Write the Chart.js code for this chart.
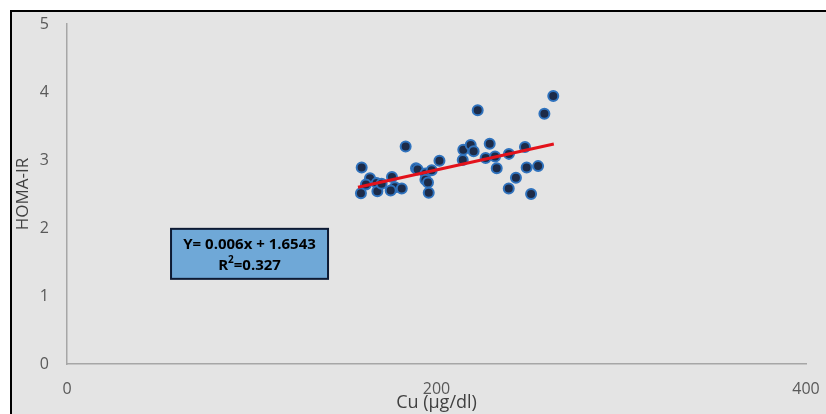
<!DOCTYPE html>
<html>
<head>
<meta charset="utf-8">
<script src="https://cdn.jsdelivr.net/npm/chart.js@4.4.1/dist/chart.umd.min.js"></script>
<style>
  html, body { margin: 0; padding: 0; background: #fff; }
  #wrap { width: 826px; height: 414px; position: relative; }
</style>
</head>
<body>
<div id="wrap"><canvas id="chart" width="826" height="414"></canvas></div>
<script>
// Cu (µg/dl) vs HOMA-IR
const cuValues = [159.5, 159.1, 164.0, 161.8, 167.6, 168.0, 170.3, 175.9, 177.5, 175.2,
    181.2, 183.3, 188.9, 189.8, 194.0, 194.0, 195.4, 195.8, 197.4, 201.6,
    214.2, 214.5, 218.5, 220.1, 222.3, 226.6, 228.8, 231.7, 232.6, 239.2,
    239.1, 243.0, 247.9, 248.8, 255.0, 251.2, 258.4, 263.2]
const homaValues = [2.89, 2.51, 2.73, 2.64, 2.66, 2.54, 2.65, 2.75, 2.60, 2.55,
    2.58, 3.20, 2.88, 2.86, 2.80, 2.71, 2.67, 2.52, 2.85, 2.99,
    3.00, 3.15, 3.22, 3.13, 3.73, 3.03, 3.24, 3.05, 2.88, 3.09,
    2.58, 2.74, 3.19, 2.89, 2.91, 2.50, 3.68, 3.94]

// linear trend line ends
const trendX = [157.5, 263.5]
const trendY = [2.600, 3.235]

const xTicks = [0, 200, 400]
const yTicks = [0, 1, 2, 3, 4, 5]

const eqLines = ['Y= 0.006x + 1.6543', 'R', '=0.327']
const eqAnchor = { x: 98.8, y: 1.62 }

const tickFamily = "'Open Sans', sans-serif"

const backgroundPlugin = {
    id: 'bg',
    beforeDraw: (chart) => {
        const ctx = chart.ctx
        ctx.save()
        ctx.fillStyle = '#ffffff'
        ctx.fillRect(0, 0, chart.width, chart.height)
        ctx.fillStyle = '#e4e4e4'
        ctx.fillRect(12, 12, chart.width - 12, chart.height - 12)
        ctx.fillStyle = '#000000'
        ctx.fillRect(10, 10, 2, chart.height - 10)
        ctx.fillRect(10, 10, chart.width - 10, 2)
        ctx.restore()
    }
}

const equationPlugin = {
    id: 'equation',
    afterDatasetsDraw: (chart) => {
        const ctx = chart.ctx
        const cx = chart.scales.x.getPixelForValue(eqAnchor.x)
        const cy = chart.scales.y.getPixelForValue(eqAnchor.y)
        const w = 157, h = 50
        ctx.save()
        ctx.fillStyle = '#6fa8d7'
        ctx.fillRect(cx - w / 2, cy - h / 2, w, h)
        ctx.strokeStyle = '#0d1a33'
        ctx.lineWidth = 2
        ctx.strokeRect(cx - w / 2, cy - h / 2, w, h)

        const big = "bold 15px " + tickFamily
        const small = "bold 10px " + tickFamily
        ctx.fillStyle = '#000'
        ctx.textBaseline = 'middle'
        ctx.textAlign = 'center'
        ctx.font = big
        ctx.fillText(eqLines[0], cx, cy - 9)

        // R² line
        const rW = ctx.measureText(eqLines[1]).width
        const restW = ctx.measureText(eqLines[2]).width
        ctx.font = small
        const supW = ctx.measureText('2').width
        let left = cx - (rW + supW + restW) / 2
        ctx.textAlign = 'left'
        ctx.font = big
        ctx.fillText(eqLines[1], left, cy + 12)
        ctx.font = small
        ctx.fillText('2', left + rW, cy + 6)
        ctx.font = big
        ctx.fillText(eqLines[2], left + rW + supW, cy + 12)
        ctx.restore()
    }
}

const ctx = document.getElementById('chart')

new Chart(ctx, {
    type: 'scatter',
    data: {
        datasets: [{
            type: 'line',
            data: trendX.map((x, i) => ({ x: x, y: trendY[i] })),
            borderColor: '#e3121b',
            borderWidth: 3,
            pointRadius: 0,
            fill: false
        }, {
            data: cuValues.map((x, i) => ({ x: x, y: homaValues[i] })),
            backgroundColor: '#1d2b48',
            borderColor: '#2f72bd',
            borderWidth: 2,
            pointRadius: 5
        }]
    },
    options: {
        responsive: false,
        animation: false,
        layout: { padding: { top: 24, right: 20, left: 0, bottom: 0 } },
        plugins: {
            legend: { display: false },
            tooltip: { enabled: false }
        },
        scales: {
            x: {
                type: 'linear',
                min: 0,
                max: 400,
                afterBuildTicks: (scale) => { scale.ticks = xTicks.map(v => ({ value: v })) },
                afterFit: (scale) => {
                    scale.height = 50
                    scale.paddingLeft = 0
                    scale.paddingRight = 0
                },
                grid: { display: false, drawTicks: false },
                border: { display: true, color: '#a6a6a6', width: 1.5 },
                ticks: { padding: 16, color: '#595959', font: { family: tickFamily, size: 16 } },
                title: {
                    display: true,
                    text: 'Cu (µg/dl)',
                    color: '#404040',
                    padding: { top: 0, bottom: 0 },
                    font: { family: tickFamily, size: 18 }
                }
            },
            y: {
                min: 0,
                max: 5,
                afterBuildTicks: (scale) => { scale.ticks = yTicks.map(v => ({ value: v })) },
                afterFit: (scale) => {
                    scale.width = 67
                    scale.paddingTop = 0
                    scale.paddingBottom = 0
                },
                grid: { display: false, drawTicks: false },
                border: { display: true, color: '#a6a6a6', width: 1.5 },
                ticks: { padding: 18, color: '#595959', font: { family: tickFamily, size: 16 } },
                title: {
                    display: true,
                    text: 'HOMA-IR',
                    color: '#404040',
                    padding: { top: 13, bottom: 0 },
                    font: { family: tickFamily, size: 17 }
                }
            }
        }
    },
    plugins: [backgroundPlugin, equationPlugin]
})
</script>
</body>
</html>
